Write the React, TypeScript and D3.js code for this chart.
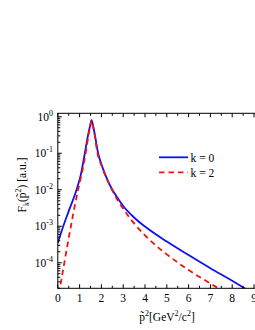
import React from "react";
import * as d3 from "d3";

const xTickValues = [0, 1, 2, 3, 4, 5, 6, 7, 8, 9];
const yTickExponents = [-4, -3, -2, -1, 0];

const k0X = [0, 0.25, 0.5, 0.86, 1.05, 1.24, 1.39, 1.48, 1.55, 1.62, 1.7, 1.85, 2.0, 2.2, 2.5, 2.75, 3.0, 3.5, 4.0, 5.0, 6.0, 7.0, 8.0, 8.57, 8.8];
const k0F = [3.5e-4, 1.0e-3, 2.6e-3, 1.0e-2, 2.5e-2, 0.1, 0.32, 0.56, 0.81, 0.56, 0.32, 0.1, 0.05, 0.024, 0.01, 5.9e-3, 3.6e-3, 1.74e-3, 9.8e-4, 3.8e-4, 1.62e-4, 7.1e-5, 3.2e-5, 2.0e-5, 1.66e-5];

const k2X = [0.06, 0.1, 0.3, 0.6, 0.93, 1.1, 1.28, 1.41, 1.49, 1.55, 1.61, 1.69, 1.82, 2.0, 2.2, 2.44, 2.7, 3.0, 3.5, 4.0, 5.0, 6.0, 7.0, 7.42, 7.7];
const k2F = [1.4e-5, 2.0e-5, 1.0e-4, 1.0e-3, 1.0e-2, 2.8e-2, 0.1, 0.32, 0.56, 0.79, 0.56, 0.32, 0.1, 0.047, 0.023, 0.0112, 5.75e-3, 3.0e-3, 1.2e-3, 5.6e-4, 1.7e-4, 6.3e-5, 2.7e-5, 1.9e-5, 1.5e-5];

const seriesLabels = ["k = 0", "k = 2"];

export default function App() {
  const W = 255, H = 330;
  const left = 57.8, top = 113.3, bottom = 288.3;
  const right = 57.8 + 9.1 * 21.8;
  const x = d3.scaleLinear().domain([0, 9.1]).range([left, right]);
  const y = d3.scaleLog().domain([Math.pow(10, -4.7), Math.pow(10, 0.095)]).range([bottom, top]);
  const line = d3
    .line<[number, number]>()
    .x((d) => x(d[0]))
    .y((d) => y(d[1]))
    .curve(d3.curveMonotoneX);
  const k0 = k0X.map((v, i) => [v, k0F[i]] as [number, number]);
  const k2 = k2X.map((v, i) => [v, k2F[i]] as [number, number]);
  const font = "'Liberation Serif', 'Times New Roman', serif";

  const minorX: number[] = [];
  for (let v = 0.5; v < 9.1; v += 1) minorX.push(v);
  const minorY: number[] = [];
  for (let e = -5; e <= 0; e++) for (let m = 2; m <= 9; m++) {
    const v = m * Math.pow(10, e);
    if (v > Math.pow(10, -4.7) && v < Math.pow(10, 0.095)) minorY.push(v);
  }

  return (
    <svg width={W} height={H} style={{ position: "absolute", left: 0, top: 0 }} fontFamily={font}>
      <rect width={W} height={H} fill="#fff" />
      <defs>
        <clipPath id="plotclip">
          <rect x={left} y={top} width={right - left} height={bottom - top} />
        </clipPath>
      </defs>
      <g clipPath="url(#plotclip)">
        <path d={line(k0) || ""} fill="none" stroke="#1010f5" strokeWidth={1.8} />
        <path d={line(k2) || ""} fill="none" stroke="#f51010" strokeWidth={1.8} strokeDasharray="5.5,4" />
      </g>
      <rect x={left} y={top} width={right - left} height={bottom - top} fill="none" stroke="#000" strokeWidth={1} />
      {xTickValues.map((v) => (
        <g key={"xt" + v}>
          <line x1={x(v)} x2={x(v)} y1={bottom} y2={bottom - 4} stroke="#000" />
          <line x1={x(v)} x2={x(v)} y1={top} y2={top + 4} stroke="#000" />
          <text x={x(v)} y={301.5} fontSize={11.5} textAnchor="middle">{v}</text>
        </g>
      ))}
      {minorX.map((v) => (
        <g key={"xm" + v}>
          <line x1={x(v)} x2={x(v)} y1={bottom} y2={bottom - 2.5} stroke="#000" />
          <line x1={x(v)} x2={x(v)} y1={top} y2={top + 2.5} stroke="#000" />
        </g>
      ))}
      {yTickExponents.map((e) => {
        const yy = y(Math.pow(10, e));
        return (
          <g key={"yt" + e}>
            <line x1={left} x2={left + 4} y1={yy} y2={yy} stroke="#000" />
            <text x={53} y={yy + 3.8} fontSize={11.5} textAnchor="end">
              10<tspan dy={-5} fontSize={8}>{e === 0 ? "0" : "-" + Math.abs(e)}</tspan>
            </text>
          </g>
        );
      })}
      {minorY.map((v, i) => (
        <line key={"ym" + i} x1={left} x2={left + 2.5} y1={y(v)} y2={y(v)} stroke="#000" />
      ))}
      <text x={167} y={320.5} fontSize={11.5} textAnchor="middle">
        p̃<tspan dy={-5} fontSize={8}>2</tspan><tspan dy={5}>[GeV</tspan><tspan dy={-5} fontSize={8}>2</tspan><tspan dy={5}>/c</tspan><tspan dy={-5} fontSize={8}>2</tspan><tspan dy={5}>]</tspan>
      </text>
      <text transform="translate(25.5,185) rotate(-90)" fontSize={11.5} textAnchor="middle">
        F<tspan dy={3} fontSize={8}>k</tspan><tspan dy={-3}>(p̃</tspan><tspan dy={-5} fontSize={8}>2</tspan><tspan dy={5}>) [a.u.]</tspan>
      </text>
      <line x1={159} x2={188} y1={157.3} y2={157.3} stroke="#1010f5" strokeWidth={1.8} />
      <text x={190.5} y={161.7} fontSize={11.5}>{seriesLabels[0]}</text>
      <line x1={159} x2={188} y1={172.3} y2={172.3} stroke="#f51010" strokeWidth={1.8} strokeDasharray="5.5,4" />
      <text x={190.5} y={177.3} fontSize={11.5}>{seriesLabels[1]}</text>
    </svg>
  );
}
